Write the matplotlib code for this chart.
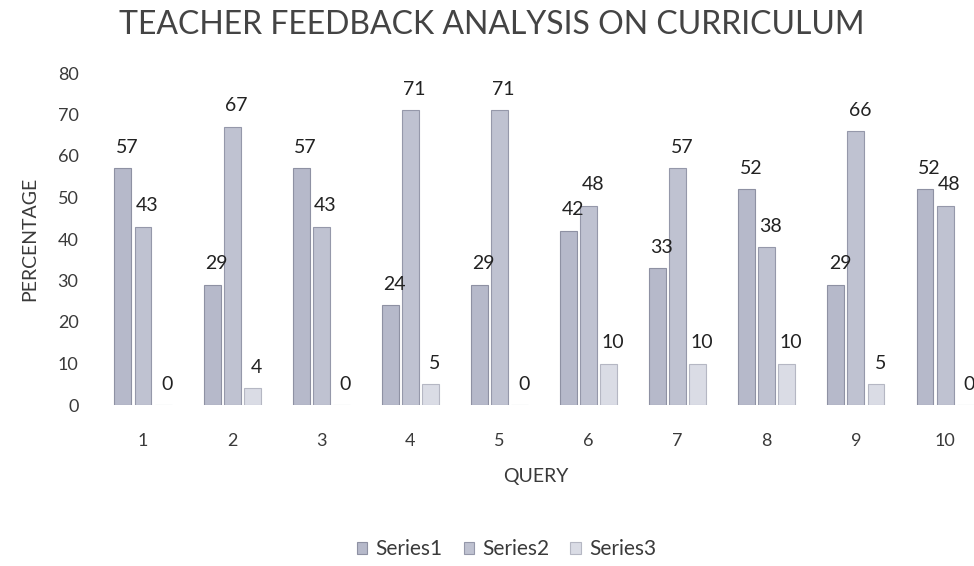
import numpy as np
import matplotlib.pyplot as plt

# data
queries = ["1", "2", "3", "4", "5", "6", "7", "8", "9", "10"]
series1 = [57, 29, 57, 24, 29, 42, 33, 52, 29, 52]
series2 = [43, 67, 43, 71, 71, 48, 57, 38, 66, 48]
series3 = [0, 4, 0, 5, 0, 10, 10, 10, 5, 0]
series_names = ["Series1", "Series2", "Series3"]

plt.rcParams["font.family"] = ["Lato", "DejaVu Sans"]
text_col = "#3a3a3a"


def main():
    fig = plt.figure(figsize=(9.74, 5.66), dpi=100)
    ax = fig.add_axes([98 / 974, 1 - 405 / 566, 1 - 98 / 974, (405 - 73) / 566])

    x = np.arange(1, len(queries) + 1)
    width = 0.19
    offset = 0.225
    colors = ["#b6b9ca", "#bfc2d1", "#dadce5"]
    edges = ["#8e91a3", "#9598aa", "#b5b7c3"]

    for i, (vals, name) in enumerate(zip([series1, series2, series3], series_names)):
        pos = x + (i - 1) * offset
        bars = ax.bar(pos, vals, width, color=colors[i], edgecolor=edges[i],
                      linewidth=0.8, label=name)
        for b, v in zip(bars, vals):
            ax.annotate(str(v), (b.get_x() + b.get_width() / 2, v),
                        xytext=(3, 9), textcoords="offset points",
                        ha="center", va="bottom", fontsize=14, color="#222222")

    ax.set_xlim(0.495, 10.325)
    ax.set_ylim(0, 80)
    ax.set_yticks(range(0, 81, 10))
    ax.set_xticks(x)
    ax.set_xticklabels(queries)
    ax.tick_params(length=0, labelsize=13, labelcolor=text_col)
    ax.tick_params(axis="x", pad=20)
    ax.tick_params(axis="y", pad=14)
    for s in ax.spines.values():
        s.set_visible(False)

    ax.set_xlabel("QUERY", fontsize=14, color=text_col, labelpad=14)
    ax.set_ylabel("PERCENTAGE", fontsize=14, color=text_col, labelpad=14)
    fig.text(0.505, 0.955, "TEACHER FEEDBACK ANALYSIS ON CURRICULUM",
             ha="center", va="center", fontsize=23, color="#444444")

    fig.legend(loc="center", bbox_to_anchor=(0.52, 0.03), ncol=3, frameon=False,
               fontsize=15, handlelength=0.5, handleheight=0.5, columnspacing=1.0,
               handletextpad=0.4, labelcolor=text_col)

    fig.savefig("out.png", dpi=100)


if __name__ == "__main__":
    main()
